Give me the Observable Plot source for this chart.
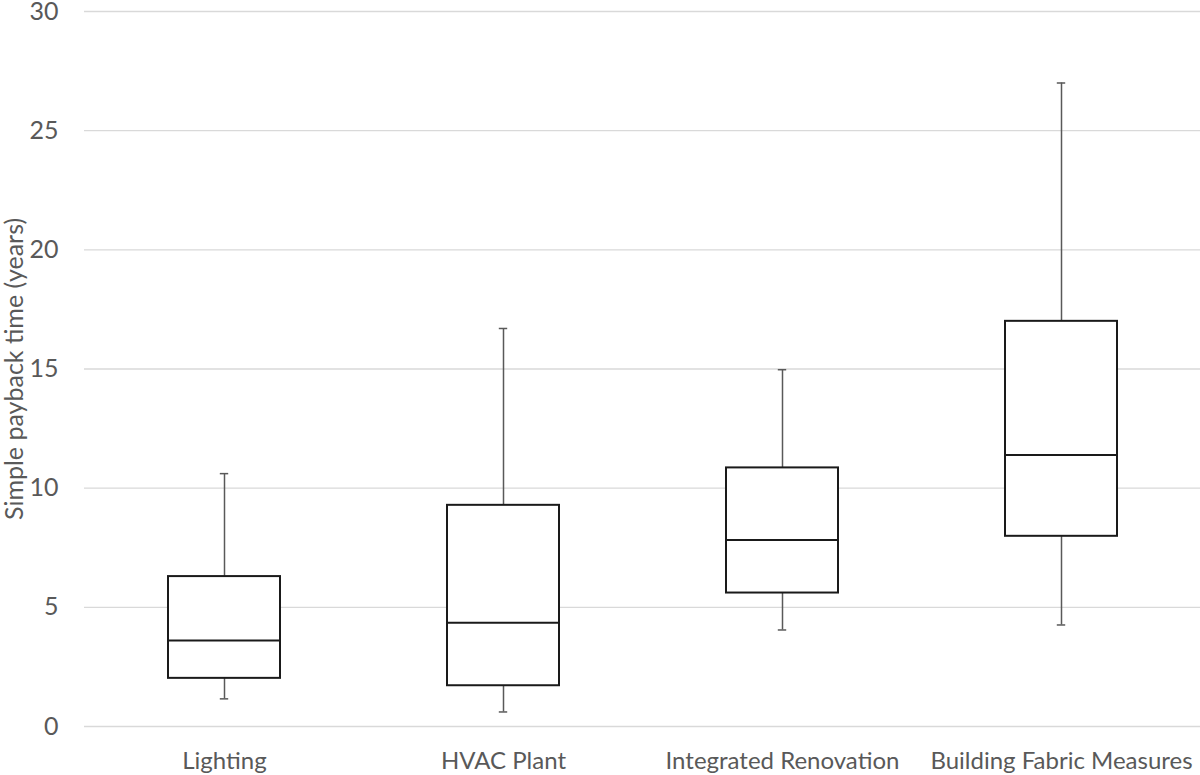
<!DOCTYPE html>
<html>
<head>
<meta charset="utf-8">
<script src="https://cdn.jsdelivr.net/npm/d3@7"></script>
<script src="https://cdn.jsdelivr.net/npm/@observablehq/plot@0.6"></script>
<style>
  html, body { margin: 0; padding: 0; background: #fff; }
</style>
</head>
<body>
<div id="chart"></div>
<script>
const categories = ["Lighting", "HVAC Plant", "Integrated Renovation", "Building Fabric Measures"];
const minValues    = [1.16, 0.61, 4.05, 4.26];
const q1Values     = [2.02, 1.71, 5.60, 7.98];
const medianValues = [3.61, 4.35, 7.83, 11.39];
const q3Values     = [6.29, 9.28, 10.85, 17.0];
const maxValues    = [10.61, 16.70, 14.97, 27.0];
const yTicks = [0, 5, 10, 15, 20, 25, 30];

const data = categories.map((c, i) => ({
  cat: c, min: minValues[i], q1: q1Values[i], median: medianValues[i], q3: q3Values[i], max: maxValues[i]
}));

const capHalf = 4;
const bandW = 279 * 0.4;
const capInset = bandW / 2 - capHalf;

const chart = Plot.plot({
  width: 1200,
  height: 775,
  marginLeft: 84,
  marginRight: 0,
  marginTop: 11,
  marginBottom: 49,
  style: { fontFamily: "Lato, 'Open Sans', sans-serif", fontSize: "24px", color: "#595959", background: "#fff", overflow: "visible" },
  x: { domain: categories, paddingInner: 0.6, paddingOuter: 0.3, label: null },
  y: { domain: [0, 30], label: null },
  marks: [
    Plot.ruleY(yTicks, { stroke: "#d9d9d9", strokeWidth: 1.3 }),
    Plot.axisY({ ticks: yTicks, tickSize: 0, tickPadding: 26, fontSize: 25, fill: "#595959",
      label: "Simple payback time (years)", labelAnchor: "center", labelArrow: "none", labelOffset: 79 }),
    Plot.axisX({ tickSize: 0, tickPadding: 25, fontSize: 24, fill: "#595959", label: null }),
    Plot.ruleX(data, { x: "cat", y1: "min", y2: "max", stroke: "#595959", strokeWidth: 1.5 }),
    Plot.tickY(data, { x: "cat", y: "min", stroke: "#595959", strokeWidth: 1.5, insetLeft: capInset, insetRight: capInset }),
    Plot.tickY(data, { x: "cat", y: "max", stroke: "#595959", strokeWidth: 1.5, insetLeft: capInset, insetRight: capInset }),
    Plot.barY(data, { x: "cat", y1: "q1", y2: "q3", fill: "white", stroke: "#1a1a1a", strokeWidth: 2 }),
    Plot.tickY(data, { x: "cat", y: "median", stroke: "#1a1a1a", strokeWidth: 2 })
  ]
});
document.getElementById("chart").appendChild(chart);
</script>
</body>
</html>
